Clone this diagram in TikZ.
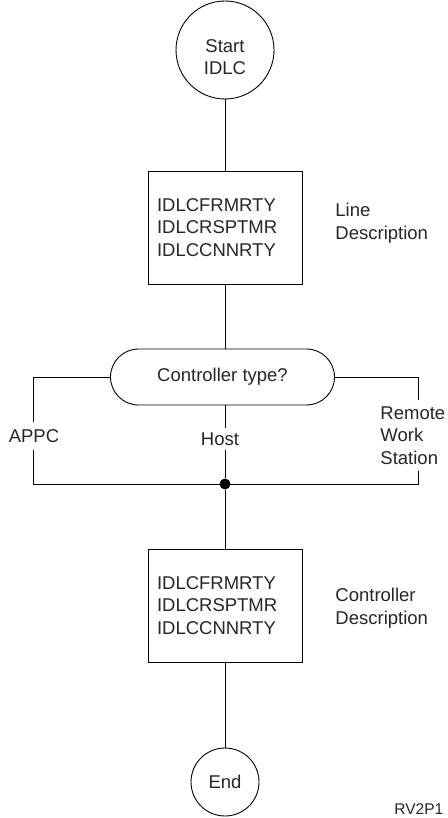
\documentclass[tikz,border=0pt]{standalone}
\usepackage{fontspec}
\setmainfont{Liberation Sans}
\usetikzlibrary{calc}
\begin{document}
\begin{tikzpicture}[x=1pt,y=-1pt,line width=0.9pt,
  every node/.style={font=\fontsize{18.5}{22.5}\selectfont,inner sep=0pt,text=black!85},
  term/.style={circle,draw},
  procbox/.style={draw,minimum width=154pt,minimum height=113pt,text width=136pt,align=left,inner xsep=9pt},
  decision/.style={draw,rounded corners=28pt,minimum width=224pt,minimum height=56pt},
  branchlabel/.style={inner ysep=5pt,align=left},
  sidelabel/.style={anchor=west,align=left},
  junction/.style={circle,fill,minimum size=11pt}
]
\useasboundingbox (0,0) rectangle (447,818);

\node[term,minimum size=98pt] (start) at (225,50) {};
\node[align=center] (starttext) at (225,57) {Start\\IDLC};

\node[procbox] (box1) at (225,227.5) {IDLCFRMRTY\\IDLCRSPTMR\\IDLCCNNRTY};
\node[sidelabel] (linedesc) at (335,223) {Line\\Description};

\node[decision] (dec) at (222.5,377) {Controller type?};

\coordinate (tl) at (33,377);
\coordinate (tr) at (418,377);
\coordinate (bl) at (33,484);
\coordinate (br) at (418,484);
\node[junction] (dot) at (225,484) {};

\node[branchlabel,inner ysep=7pt] (appc) at (34,436) {APPC};
\node[branchlabel,inner ysep=4pt] (host) at (220,439) {Host};
\node[branchlabel,anchor=west,inner ysep=6pt] (rws) at (380,435.5) {Remote\\Work\\Station};

\node[procbox] (box2) at (225,605.5) {IDLCFRMRTY\\IDLCRSPTMR\\IDLCCNNRTY};
\node[sidelabel] (ctrldesc) at (335,608) {Controller\\Description};

\node[term,minimum size=68pt] (end) at (225,782) {End};

\node[anchor=base west,font=\fontsize{15.5}{19}\selectfont] (fig) at (394,814.5) {RV2P1};

\draw (start) -- (box1);
\draw (box1.south) -- (box1.south |- dec.north);
\draw (dec.west) -- (tl) -- (appc.north -| tl);
\draw (appc.south -| tl) -- (bl) -- (br) -- (rws.south -| br);
\draw (rws.north -| br) -- (tr) -- (dec.east);
\draw (dec.south -| dot) -- (host.north -| dot);
\draw (host.south -| dot) -- (dot) -- (box2);
\draw (box2) -- (end);
\end{tikzpicture}
\end{document}
